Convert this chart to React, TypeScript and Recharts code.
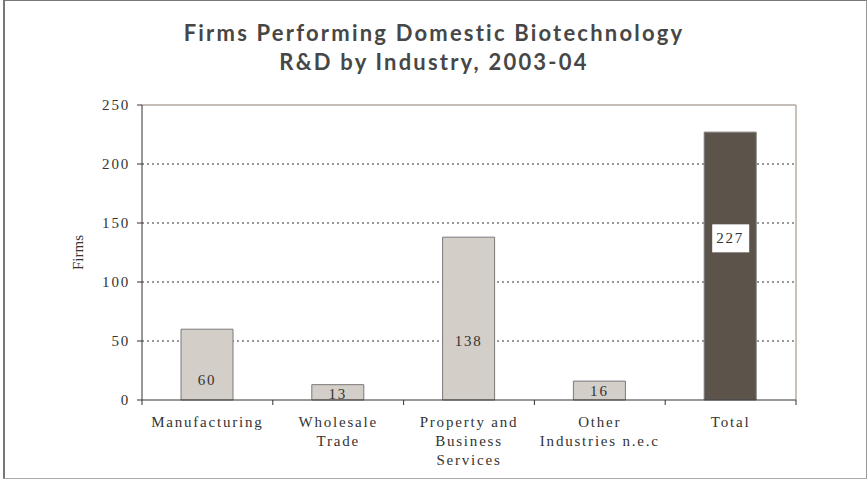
import { Bar, BarChart, CartesianGrid, Cell, LabelList, ReferenceLine, XAxis, YAxis } from "recharts";

const categories = [
	"Manufacturing",
	"Wholesale Trade",
	"Property and Business Services",
	"Other Industries n.e.c",
	"Total",
];
const tickLines = [
	["Manufacturing"],
	["Wholesale", "Trade"],
	["Property and", "Business", "Services"],
	["Other", "Industries n.e.c"],
	["Total"],
];
const firms = [60, 13, 138, 16, 227];
// value (in firms) where each data label's centre sits
const labelAt = [17, 5, 50, 8, 137];
const yTicks = [0, 50, 100, 150, 200, 250];

const W = 868;
const H = 480;
const M = { top: 105, right: 72, bottom: 0, left: 0 };
const Y_W = 142;
const X_H = 80;
const BAND = (W - M.right - Y_W) / categories.length;

const LIGHT = "#d3cec8";
const DARK = "#5c534a";
const FONT = "'Liberation Serif', serif";
const TXT = { fontFamily: FONT, fontSize: 15, letterSpacing: 1.8, fill: "#333" };

const data = categories.map((name, i) => ({ name, firms: firms[i] }));

function XTick(props: any) {
	const { x, y, index } = props;
	const lines = tickLines[index] ?? [];
	const last = index === categories.length - 1;
	return (
		<g>
			<line x1={x - BAND / 2} y1={y} x2={x - BAND / 2} y2={y + 5} stroke="#333" />
			{last && <line x1={x + BAND / 2} y1={y} x2={x + BAND / 2} y2={y + 5} stroke="#333" />}
			<text x={x} y={y + 27} textAnchor="middle" {...TXT}>
				{lines.map((l, i) => (
					<tspan key={l} x={x} dy={i === 0 ? 0 : 19}>
						{l}
					</tspan>
				))}
			</text>
		</g>
	);
}

function BarValue(props: any) {
	const { x, y, width, height, value, index } = props;
	const cy = y + height - (labelAt[index] / value) * height;
	const cx = x + width / 2;
	const boxed = index === categories.length - 1;
	return (
		<g>
			{boxed && <rect x={cx - 18} y={cy - 14} width={37} height={28} fill="#fff" />}
			<text x={cx} y={cy} dy={5} textAnchor="middle" {...TXT}>
				{value}
			</text>
		</g>
	);
}

export default function App() {
	return (
		<div style={{ position: "absolute", left: 0, top: 0, width: W, height: H, background: "#fff" }}>
			<div
				style={{
					position: "absolute",
					left: 3,
					top: 0,
					width: W - 4,
					height: H - 1,
					boxSizing: "border-box",
					borderTop: "1px solid #777",
					borderLeft: "2px solid #777",
					borderRight: "1px solid #999",
					borderBottom: "1px solid #aaa",
				}}
			/>
			<div
				style={{
					position: "absolute",
					left: 0,
					top: 18,
					width: W,
					textAlign: "center",
					fontFamily: "Lato, sans-serif",
					fontWeight: 700,
					fontSize: 22,
					lineHeight: "29px",
					letterSpacing: 2.2,
					color: "#474747",
				}}
			>
				Firms Performing Domestic Biotechnology
				<br />
				R&amp;D by Industry, 2003-04
			</div>
			<div style={{ position: "absolute", left: 0, top: 0 }}>
				<BarChart width={W} height={H} data={data} margin={M}>
					<CartesianGrid
						vertical={false}
						stroke="#333"
						strokeDasharray="2 3"
						horizontalValues={[50, 100, 150, 200]}
					/>
					<CartesianGrid
						horizontal={false}
						stroke="#c9c2bb"
						strokeWidth={2}
						verticalCoordinatesGenerator={({ offset }: any) => [offset.left + offset.width]}
					/>
					<ReferenceLine y={250} stroke="#8a7d72" />
					<XAxis
						dataKey="name"
						height={X_H}
						interval={0}
						tickLine={false}
						tickSize={0}
						tickMargin={0}
						stroke="#333"
						tick={<XTick />}
					/>
					<YAxis
						width={Y_W}
						domain={[0, 250]}
						ticks={yTicks}
						tickSize={5}
						tickMargin={7}
						stroke="#333"
						tick={TXT}
						label={{
							value: "Firms",
							angle: -90,
							position: "insideLeft",
							offset: 78,
							style: { textAnchor: "middle", fontFamily: FONT, fontSize: 15, fill: "#333" },
						}}
					/>
					<Bar dataKey="firms" barSize={52} stroke="#7a7a7a" isAnimationActive={false}>
						{data.map((d, i) => (
							<Cell key={d.name} fill={i === categories.length - 1 ? DARK : LIGHT} />
						))}
						<LabelList dataKey="firms" content={<BarValue />} />
					</Bar>
				</BarChart>
			</div>
		</div>
	);
}
